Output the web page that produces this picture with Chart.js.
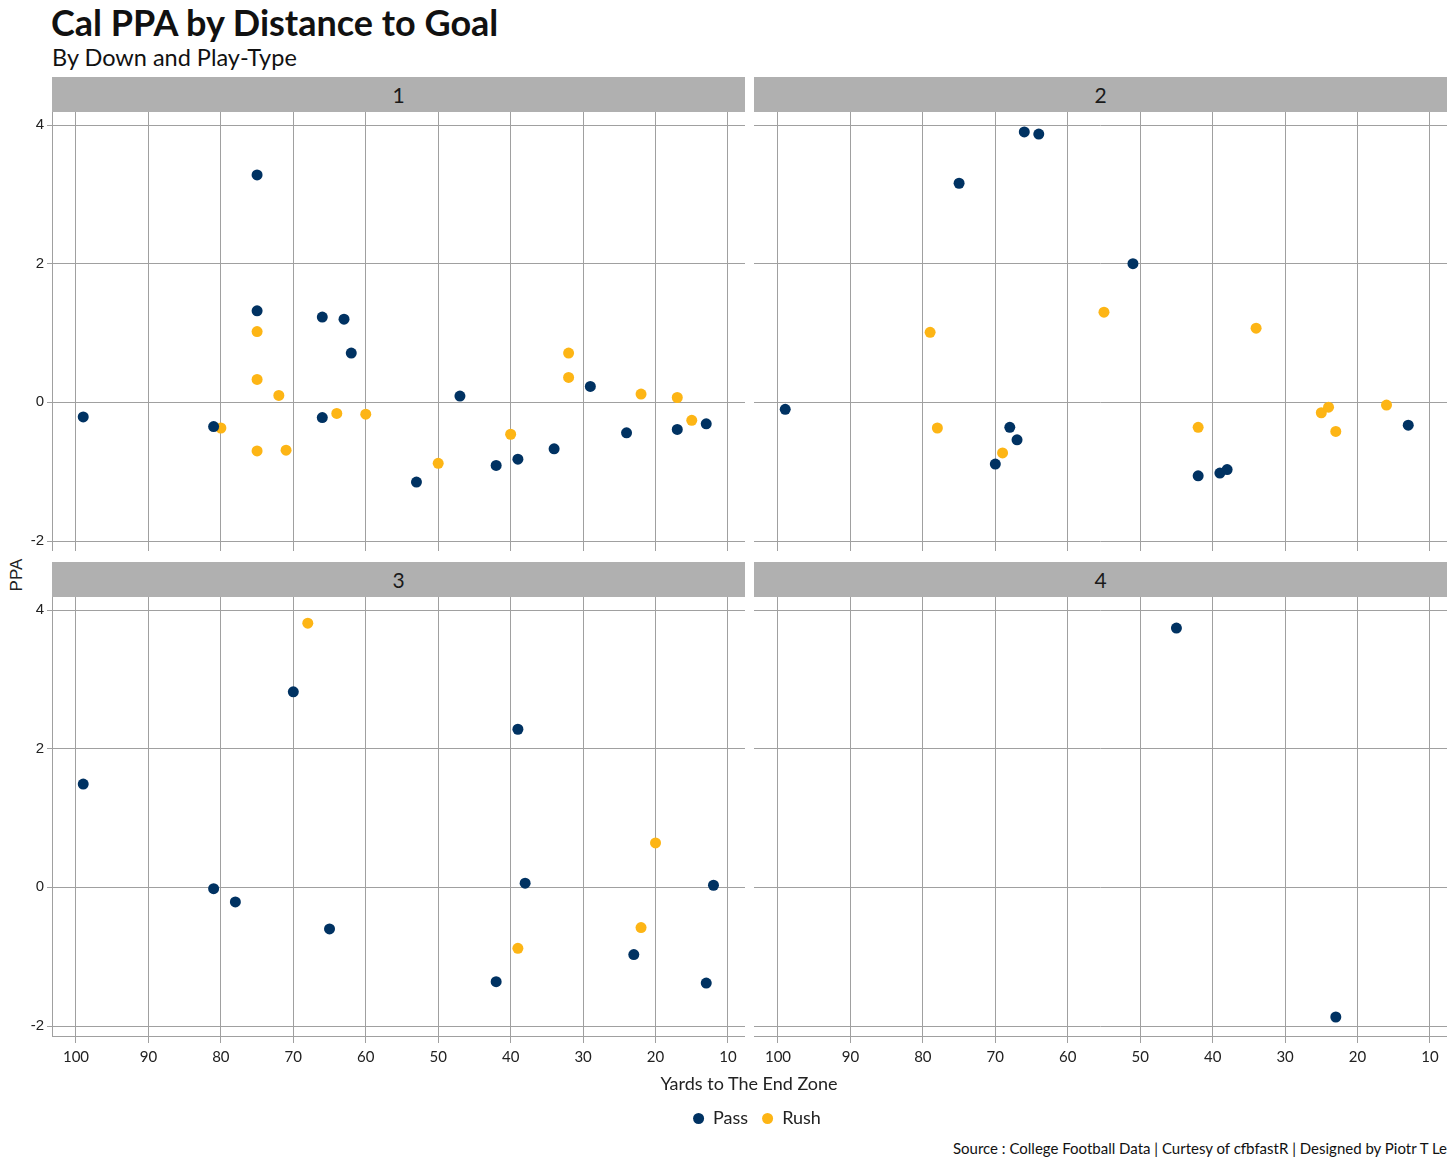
<!DOCTYPE html>
<html>
<head>
<meta charset="utf-8">
<script src="https://cdn.jsdelivr.net/npm/chart.js@4.4.1/dist/chart.umd.min.js"></script>
<style>
body { margin: 0; background: #fff; width: 1456px; height: 1165px; position: relative; overflow: hidden; font-family: Lato, sans-serif; color: #1a1a1a; }
.txt { position: absolute; white-space: nowrap; }
.strip { position: absolute; background: #b0b0b0; height: 35px; line-height: 35px; text-align: center; font-size: 21px; color: #1a1a1a; }
.panel { position: absolute; }
.dot { display: inline-block; width: 11px; height: 11px; border-radius: 50%; vertical-align: middle; margin-right: 9px; position: relative; top: -1px; }
</style>
</head>
<body>

<div class="txt" style="left:51px; top:0px; font-size:36px; font-weight:bold; color:#111;">Cal PPA by Distance to Goal</div>
<div class="txt" style="left:52px; top:43px; font-size:23.5px; color:#111;">By Down and Play-Type</div>

<div class="strip" style="left:52px; top:77px; width:693px;">1</div>
<div class="strip" style="left:754px; top:77px; width:693px;">2</div>
<div class="strip" style="left:52px; top:562px; width:693px;">3</div>
<div class="strip" style="left:754px; top:562px; width:693px;">4</div>

<div class="panel" style="left:0; top:112px; width:745px; height:439px;"><canvas id="down1"></canvas></div>
<div class="panel" style="left:754px; top:112px; width:693px; height:439px;"><canvas id="down2"></canvas></div>
<div class="panel" style="left:0; top:597px; width:745px; height:479px;"><canvas id="down3"></canvas></div>
<div class="panel" style="left:754px; top:597px; width:693px; height:479px;"><canvas id="down4"></canvas></div>

<div class="txt" style="left:17px; top:575px; font-family:'Liberation Sans', sans-serif; font-size:17px; color:#222; transform:translate(-50%,-50%) rotate(-90deg);">PPA</div>
<div class="txt" style="left:749px; top:1083px; font-size:18px; color:#222; transform:translate(-50%,-50%);">Yards to The End Zone</div>
<div class="txt" style="left:757px; top:1117px; font-size:18px; color:#222; transform:translate(-50%,-50%);">
  <span class="dot" style="background:#003262;"></span>Pass<span style="display:inline-block;width:14px;"></span><span class="dot" style="background:#fdb515;"></span>Rush
</div>
<div class="txt" style="right:9px; top:1139px; font-size:15px; color:#111;">Source : College Football Data | Curtesy of cfbfastR | Designed by Piotr T Le</div>

<script>
// Dados: [jardas até a end zone, PPA]
const down1Pass = [[99,-0.21],[75,3.28],[75,1.32],[81,-0.35],[66,1.23],[63,1.20],[62,0.71],[66,-0.22],[47,0.09],[53,-1.15],[42,-0.91],[39,-0.82],[34,-0.67],[29,0.23],[24,-0.44],[17,-0.39],[13,-0.31]];
const down1Rush = [[80,-0.37],[75,1.02],[75,0.33],[72,0.10],[75,-0.70],[71,-0.69],[64,-0.16],[60,-0.17],[50,-0.88],[40,-0.46],[32,0.71],[32,0.36],[22,0.12],[17,0.07],[15,-0.26]];
const down2Pass = [[99,-0.10],[75,3.16],[66,3.90],[64,3.87],[51,2.00],[68,-0.36],[67,-0.54],[70,-0.89],[42,-1.06],[39,-1.02],[38,-0.97],[13,-0.33]];
const down2Rush = [[79,1.01],[78,-0.37],[69,-0.73],[55,1.30],[42,-0.36],[34,1.07],[25,-0.15],[24,-0.07],[23,-0.42],[16,-0.04]];
const down3Pass = [[99,1.49],[70,2.82],[81,-0.02],[78,-0.21],[65,-0.60],[39,2.28],[38,0.06],[42,-1.36],[23,-0.97],[12,0.03],[13,-1.38]];
const down3Rush = [[68,3.81],[39,-0.88],[20,0.64],[22,-0.58]];
const down4Pass = [[45,3.74],[23,-1.87]];
const down4Rush = [];

const xTicks = [100, 90, 80, 70, 60, 50, 40, 30, 20, 10];
const yTicks = [4, 2, 0, -2];

const corPass = '#003262';
const corRush = '#fdb515';
const corGrade = '#a0a0a0';

function pontos(lista) {
    return lista.map(p => ({ x: p[0], y: p[1] }));
}

// Cria um painel (uma descida)
function criarPainel(id, pass, rush, esquerda, embaixo) {
    const ctx = document.getElementById(id).getContext('2d');
    return new Chart(ctx, {
        type: 'scatter',
        data: {
            datasets: [
                { label: 'Pass', data: pontos(pass), backgroundColor: corPass, borderWidth: 0, pointRadius: 5.5, pointHoverRadius: 5.5 },
                { label: 'Rush', data: pontos(rush), backgroundColor: corRush, borderWidth: 0, pointRadius: 5.5, pointHoverRadius: 5.5 }
            ]
        },
        options: {
            responsive: true,
            maintainAspectRatio: false,
            animation: false,
            layout: { padding: 0, autoPadding: false },
            plugins: { legend: { display: false }, tooltip: { enabled: false } },
            scales: {
                x: {
                    type: 'linear',
                    reverse: true,
                    min: 7.65,
                    max: 103.31,
                    afterBuildTicks: s => { s.ticks = xTicks.map(v => ({ value: v })); },
                    afterFit: s => {
                        s.height = embaixo ? 40 : 0;
                        s.paddingLeft = 0;
                        s.paddingRight = 0;
                    },
                    grid: { color: corGrade, lineWidth: 1, drawTicks: embaixo, tickLength: 7, tickColor: corGrade },
                    border: { display: embaixo, color: corGrade, width: 1 },
                    ticks: { display: embaixo, padding: 5, color: '#222', font: { family: 'Lato', size: 15 } }
                },
                y: {
                    type: 'linear',
                    min: -2.144,
                    max: 4.1875,
                    afterBuildTicks: s => { s.ticks = yTicks.map(v => ({ value: v })); },
                    afterFit: s => {
                        s.width = esquerda ? 52 : 0;
                        s.paddingTop = 0;
                        s.paddingBottom = 0;
                    },
                    grid: { color: corGrade, lineWidth: 1, drawTicks: esquerda, tickLength: 5, tickColor: corGrade },
                    border: { display: esquerda, color: corGrade, width: 1 },
                    ticks: { display: esquerda, padding: 3, color: '#222', font: { family: 'Liberation Sans', size: 15 } }
                }
            }
        }
    });
}

criarPainel('down1', down1Pass, down1Rush, true, false);
criarPainel('down2', down2Pass, down2Rush, false, false);
criarPainel('down3', down3Pass, down3Rush, true, true);
criarPainel('down4', down4Pass, down4Rush, false, true);
</script>
</body>
</html>
